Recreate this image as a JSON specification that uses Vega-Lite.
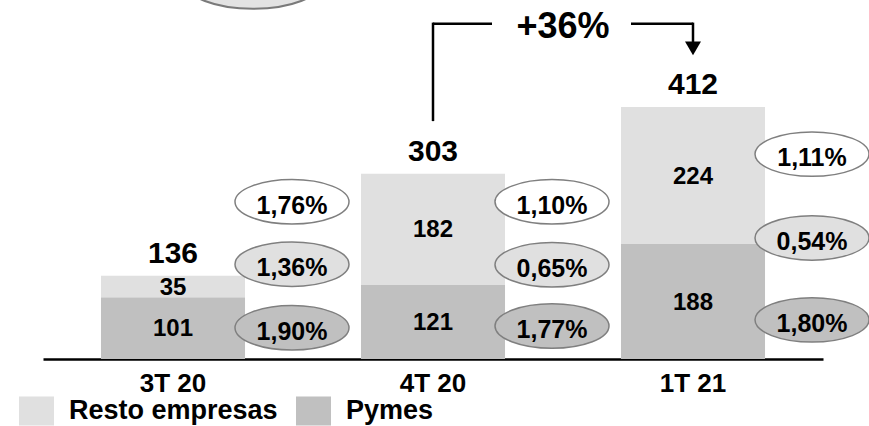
{
  "$schema": "https://vega.github.io/schema/vega-lite/v6.json",
  "width": 780,
  "height": 359,
  "autosize": {"type": "none"},
  "padding": {"left": 43, "top": 0, "right": 46, "bottom": 67},
  "background": "white",
  "config": {
    "view": {"stroke": null},
    "font": "Liberation Sans",
    "text": {"font": "Liberation Sans", "fontWeight": "bold", "color": "black"}
  },
  "datasets": {
    "barras": [
      {"q": "3T 20", "seg": "Pymes", "v": 101},
      {"q": "3T 20", "seg": "Resto empresas", "v": 35},
      {"q": "4T 20", "seg": "Pymes", "v": 121},
      {"q": "4T 20", "seg": "Resto empresas", "v": 182},
      {"q": "1T 21", "seg": "Pymes", "v": 188},
      {"q": "1T 21", "seg": "Resto empresas", "v": 224}
    ],
    "totales": [
      {"q": "3T 20", "total": 136},
      {"q": "4T 20", "total": 303},
      {"q": "1T 21", "total": 412}
    ],
    "tasas": [
      {"q": "3T 20", "tipo": "Total", "tasa": "1,76%", "nivel": 257},
      {"q": "3T 20", "tipo": "Resto empresas", "tasa": "1,36%", "nivel": 155},
      {"q": "3T 20", "tipo": "Pymes", "tasa": "1,90%", "nivel": 51},
      {"q": "4T 20", "tipo": "Total", "tasa": "1,10%", "nivel": 257},
      {"q": "4T 20", "tipo": "Resto empresas", "tasa": "0,65%", "nivel": 154},
      {"q": "4T 20", "tipo": "Pymes", "tasa": "1,77%", "nivel": 54},
      {"q": "1T 21", "tipo": "Total", "tasa": "1,11%", "nivel": 335},
      {"q": "1T 21", "tipo": "Resto empresas", "tasa": "0,54%", "nivel": 198},
      {"q": "1T 21", "tipo": "Pymes", "tasa": "1,80%", "nivel": 64}
    ],
    "verticales": [
      {"q": "4T 20", "y": 391, "y2": 548},
      {"q": "1T 21", "y": 548, "y2": 518}
    ],
    "horizontal": [{"q": "4T 20", "q2": "1T 21", "y": 548}],
    "flecha": [{"q": "1T 21", "y": 508}],
    "crecimiento": [{"q": "4T 20", "y": 543, "label": "+36%"}],
    "elipse_superior": [{"q": "3T 20", "y": 616}]
  },
  "encoding": {
    "x": {
      "field": "q",
      "type": "nominal",
      "sort": ["3T 20", "4T 20", "1T 21"],
      "scale": {"paddingInner": 0.446, "paddingOuter": 0.223},
      "axis": {
        "title": null,
        "labelAngle": 0,
        "ticks": false,
        "domainColor": "black",
        "domainWidth": 2.5,
        "labelFont": "Liberation Sans",
        "labelFontWeight": "bold",
        "labelFontSize": 26,
        "labelColor": "black",
        "labelPadding": 11
      }
    }
  },
  "layer": [
    {
      "data": {"name": "barras"},
      "transform": [
        {"stack": "v", "groupby": ["q"], "sort": [{"field": "seg", "order": "ascending"}], "as": ["y0", "y1"]}
      ],
      "mark": {"type": "bar"},
      "encoding": {
        "y": {"field": "y0", "type": "quantitative", "scale": {"domain": [0, 587], "nice": false}, "axis": null},
        "y2": {"field": "y1"},
        "color": {
          "field": "seg",
          "type": "nominal",
          "scale": {"domain": ["Resto empresas", "Pymes"], "range": ["#e0e0e0", "#c0c0c0"]},
          "legend": {
            "title": null,
            "orient": "none",
            "direction": "horizontal",
            "legendX": -24,
            "legendY": 393,
            "padding": 0,
            "symbolType": "M-1,-0.83H1V0.83H-1Z",
            "symbolSize": 1225,
            "symbolStrokeWidth": 0,
            "symbolOpacity": 1,
            "labelFont": "Liberation Sans",
            "labelFontWeight": "bold",
            "labelFontSize": 27,
            "labelColor": "black",
            "labelLimit": 0,
            "labelOffset": 15,
            "columnPadding": 18
          }
        }
      }
    },
    {
      "data": {"name": "barras"},
      "transform": [
        {"stack": "v", "groupby": ["q"], "sort": [{"field": "seg", "order": "ascending"}], "as": ["y0", "y1"]},
        {"fold": ["y0", "y1"], "as": ["extremo", "ypos"]},
        {"aggregate": [{"op": "mean", "field": "ypos", "as": "ymid"}], "groupby": ["q", "seg", "v"]}
      ],
      "mark": {"type": "text", "fontSize": 24, "baseline": "middle", "dy": 1},
      "encoding": {
        "y": {"field": "ymid", "type": "quantitative"},
        "text": {"field": "v", "type": "quantitative"}
      }
    },
    {
      "data": {"name": "totales"},
      "mark": {"type": "text", "fontSize": 30, "baseline": "middle", "dy": -22},
      "encoding": {
        "y": {"field": "total", "type": "quantitative"},
        "text": {"field": "total", "type": "quantitative"}
      }
    },
    {
      "data": {"name": "tasas"},
      "mark": {
        "type": "point",
        "filled": true,
        "opacity": 1,
        "xOffset": 119,
        "shape": "M-1,0C-1,-0.2154,-0.5523,-0.39,0,-0.39C0.5523,-0.39,1,-0.2154,1,0C1,0.2154,0.5523,0.39,0,0.39C-0.5523,0.39,-1,0.2154,-1,0Z",
        "size": 12996,
        "stroke": "#7f7f7f",
        "strokeWidth": 1.5
      },
      "encoding": {
        "y": {"field": "nivel", "type": "quantitative"},
        "fill": {
          "field": "tipo",
          "type": "nominal",
          "scale": {"domain": ["Total", "Resto empresas", "Pymes"], "range": ["#ffffff", "#e0e0e0", "#c0c0c0"]},
          "legend": null
        }
      }
    },
    {
      "data": {"name": "tasas"},
      "mark": {"type": "text", "fontSize": 25, "baseline": "middle", "dy": 4, "xOffset": 119},
      "encoding": {
        "y": {"field": "nivel", "type": "quantitative"},
        "text": {"field": "tasa", "type": "nominal"}
      }
    },
    {
      "data": {"name": "elipse_superior"},
      "mark": {
        "type": "point",
        "filled": true,
        "opacity": 1,
        "xOffset": 80,
        "shape": "M-1,0C-1,-0.2154,-0.5523,-0.39,0,-0.39C0.5523,-0.39,1,-0.2154,1,0C1,0.2154,0.5523,0.39,0,0.39C-0.5523,0.39,-1,0.2154,-1,0Z",
        "size": 18496,
        "fill": "#e3e3e3",
        "stroke": "#7a7a7a",
        "strokeWidth": 2
      },
      "encoding": {
        "y": {"field": "y", "type": "quantitative"}
      }
    },
    {
      "data": {"name": "verticales"},
      "mark": {"type": "rule", "color": "black", "strokeWidth": 2.5, "strokeCap": "square"},
      "encoding": {
        "y": {"field": "y", "type": "quantitative"},
        "y2": {"field": "y2"}
      }
    },
    {
      "data": {"name": "horizontal"},
      "mark": {"type": "rule", "color": "black", "strokeWidth": 2.5, "strokeDash": [59, 139, 70]},
      "encoding": {
        "x2": {"field": "q2"},
        "y": {"field": "y", "type": "quantitative"}
      }
    },
    {
      "data": {"name": "flecha"},
      "mark": {"type": "point", "shape": "triangle-down", "filled": true, "opacity": 1, "color": "black", "size": 256},
      "encoding": {
        "y": {"field": "y", "type": "quantitative"}
      }
    },
    {
      "data": {"name": "crecimiento"},
      "mark": {"type": "text", "fontSize": 36, "baseline": "middle", "dx": 130},
      "encoding": {
        "y": {"field": "y", "type": "quantitative"},
        "text": {"field": "label", "type": "nominal"}
      }
    }
  ]
}
